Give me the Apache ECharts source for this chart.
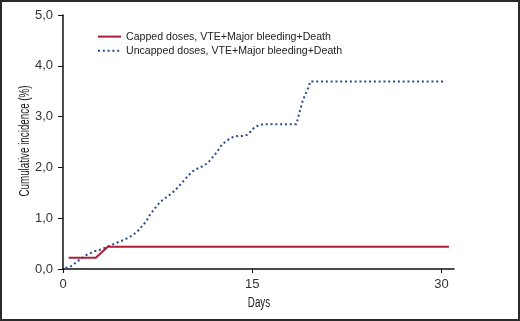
<!DOCTYPE html>
<html>
<head>
<meta charset="utf-8">
<script src="https://cdn.jsdelivr.net/npm/echarts@6/dist/echarts.min.js"></script>
<style>
  html, body { margin: 0; padding: 0; background: #fff; }
  #main { width: 520px; height: 321px; }
</style>
</head>
<body>
<div id="main"></div>
<script>
  // days / cumulative incidence (%)
  var cappedDays   = [0.45, 2.6, 3.55, 30.6];
  var cappedValues = [0.22, 0.22, 0.44, 0.44];

  var uncappedDays   = [0.2, 0.6, 1.2, 1.8, 2.5, 3.1, 3.6, 4.2, 4.9, 5.5, 5.9, 6.6, 6.9, 7.4, 7.7, 8.3, 8.9, 9.4, 9.9, 10.4, 10.8, 11.1, 11.45, 11.7, 12.2, 12.6, 12.9, 13.2, 13.5, 13.9, 14.3, 14.6, 14.9, 15.15, 15.5, 15.9, 18.5, 18.6, 19.0, 19.5, 19.6, 30.35];
  var uncappedValues = [0.02, 0.05, 0.16, 0.27, 0.35, 0.39, 0.45, 0.51, 0.58, 0.66, 0.74, 0.94, 1.07, 1.23, 1.32, 1.43, 1.55, 1.69, 1.83, 1.95, 1.99, 2.03, 2.08, 2.15, 2.30, 2.45, 2.51, 2.56, 2.60, 2.62, 2.62, 2.64, 2.71, 2.78, 2.83, 2.85, 2.85, 2.94, 3.31, 3.60, 3.69, 3.69];

  var xTicks = [0, 15, 30];
  var seriesNames = ['Capped doses, VTE+Major bleeding+Death', 'Uncapped doses, VTE+Major bleeding+Death'];
  var xTitle = 'Days';
  var yTitle = 'Cumulative incidence (%)';

  var sansFont = '"Liberation Sans", Arial, sans-serif';

  function pairs(xs, ys) {
    var out = [];
    for (var i = 0; i < xs.length; i++) out.push([xs[i], ys[i]]);
    return out;
  }

  // axis titles are condensed in the figure, so squeeze them
  var titleStyle = { fontFamily: sansFont, fontSize: 14, fill: '#1a1a1a', align: 'center', verticalAlign: 'middle' };

  var chart = echarts.init(document.getElementById('main'), null, { renderer: 'canvas' });
  chart.setOption({
    animation: false,
    backgroundColor: '#fff',
    grid: { left: 63, right: 66, top: 15, bottom: 52, containLabel: false },
    graphic: [{
      type: 'rect',
      shape: { x: 1, y: 1, width: 518, height: 319 },
      style: { fill: 'none', stroke: '#2a2a2a', lineWidth: 2 },
      silent: true
    }, {
      type: 'text',
      x: 259, y: 303, scaleX: 0.7,
      style: Object.assign({ text: xTitle }, titleStyle),
      silent: true
    }, {
      type: 'text',
      x: 25, y: 141, rotation: Math.PI / 2, scaleX: 0.7,
      style: Object.assign({ text: yTitle }, titleStyle),
      silent: true
    }],
    legend: {
      orient: 'vertical',
      left: 92,
      top: 26,
      itemWidth: 23,
      itemHeight: 14,
      itemGap: 3,
      itemStyle: { opacity: 0 },
      textStyle: { fontFamily: sansFont, fontSize: 10.6, color: '#222' },
      data: seriesNames
    },
    xAxis: {
      type: 'value',
      min: 0,
      max: 31,
      interval: 15,
      axisLine: { lineStyle: { color: '#111', width: 1.5 } },
      axisTick: { show: true, length: 4, customValues: xTicks, lineStyle: { color: '#111' } },
      axisLabel: { customValues: xTicks, margin: 9, fontFamily: sansFont, fontSize: 13, color: '#333' },
      splitLine: { show: false }
    },
    yAxis: {
      type: 'value',
      min: 0,
      max: 5,
      interval: 1,
      axisLine: { show: true, lineStyle: { color: '#111', width: 1.5 } },
      axisTick: { show: true, length: 5, lineStyle: { color: '#111' } },
      axisLabel: {
        margin: 10,
        fontFamily: sansFont,
        fontSize: 13,
        color: '#333',
        formatter: function (v) { return v.toFixed(1).replace('.', ','); }
      },
      splitLine: { show: false }
    },
    series: [{
      name: seriesNames[0],
      type: 'line',
      symbol: 'none',
      data: pairs(cappedDays, cappedValues),
      lineStyle: { color: '#b01c38', width: 2 },
      itemStyle: { color: '#b01c38' },
      z: 3
    }, {
      name: seriesNames[1],
      type: 'line',
      symbol: 'none',
      data: pairs(uncappedDays, uncappedValues),
      lineStyle: { color: '#2b4a8b', width: 2, type: [2, 2.8] },
      itemStyle: { color: '#2b4a8b' },
      z: 2
    }]
  });
</script>
</body>
</html>
